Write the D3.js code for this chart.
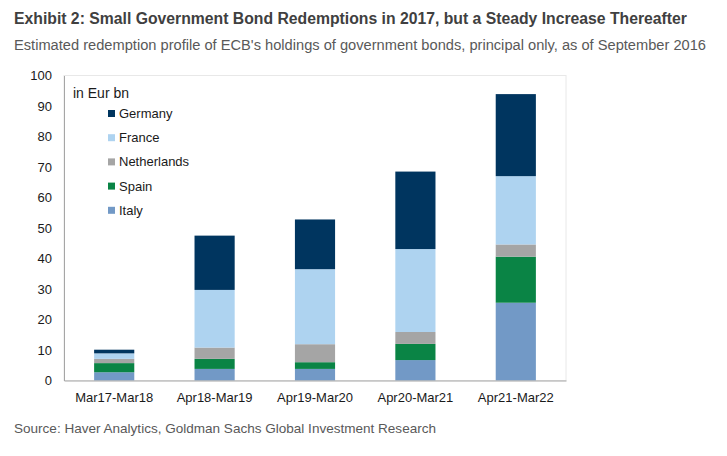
<!DOCTYPE html>
<html>
<head>
<meta charset="utf-8">
<script src="https://cdn.jsdelivr.net/npm/d3@7"></script>
<style>
  html, body { margin: 0; padding: 0; background: #fff; }
  svg { display: block; font-family: "Liberation Sans", Arial, sans-serif; }
</style>
</head>
<body>
<svg id="chart" width="727" height="456"></svg>
<script>
// ---- Data (EUR bn) ----
const categories = ["Mar17-Mar18", "Apr18-Mar19", "Apr19-Mar20", "Apr20-Mar21", "Apr21-Mar22"];
const seriesNames = ["Italy", "Spain", "Netherlands", "France", "Germany"]; // stacking order bottom -> top
const italy       = [2.7, 3.8, 3.8, 6.7, 25.5];
const spain       = [3.0, 3.3, 2.2, 5.3, 15.1];
const netherlands = [1.4, 3.7, 5.9, 3.9, 4.0];
const france      = [1.8, 18.9, 24.6, 27.2, 22.4];
const germany     = [1.2, 17.8, 16.3, 25.4, 26.9];
const yTicks = [0, 10, 20, 30, 40, 50, 60, 70, 80, 90, 100];
const legendOrder = ["Germany", "France", "Netherlands", "Spain", "Italy"];

const colors = {
  Germany: "#00355f",
  France: "#aed3f0",
  Netherlands: "#a5a5a5",
  Spain: "#0a8445",
  Italy: "#7299c6"
};

const seriesValues = { Italy: italy, Spain: spain, Netherlands: netherlands, France: france, Germany: germany };
const table = categories.map((c, i) => {
  const row = { category: c };
  seriesNames.forEach(s => row[s] = seriesValues[s][i]);
  return row;
});

const svg = d3.select("#chart");

// Title, subtitle, source
svg.append("text")
  .attr("x", 14).attr("y", 24)
  .attr("font-size", 16).attr("font-weight", "bold").attr("fill", "#404040")
  .attr("textLength", 673).attr("lengthAdjust", "spacingAndGlyphs")
  .text("Exhibit 2: Small Government Bond Redemptions in 2017, but a Steady Increase Thereafter");
svg.append("text")
  .attr("x", 14).attr("y", 50)
  .attr("font-size", 14).attr("fill", "#595959")
  .attr("textLength", 692).attr("lengthAdjust", "spacingAndGlyphs")
  .text("Estimated redemption profile of ECB's holdings of government bonds, principal only, as of September 2016");
svg.append("text")
  .attr("x", 14).attr("y", 433)
  .attr("font-size", 13.5).attr("fill", "#595959")
  .attr("textLength", 422).attr("lengthAdjust", "spacingAndGlyphs")
  .text("Source: Haver Analytics, Goldman Sachs Global Investment Research");

// Scales
const x = d3.scaleBand().domain(categories).range([64, 566]).paddingInner(0.6).paddingOuter(0.3);
const y = d3.scaleLinear().domain([0, 100]).range([380.5, 75.5]);

// Plot border (light)
svg.append("rect")
  .attr("x", 64).attr("y", y(100))
  .attr("width", 566 - 64).attr("height", y(0) - y(100))
  .attr("fill", "none").attr("stroke", "#e8e8e8").attr("stroke-width", 1);

// Stacked bars
const stack = d3.stack().keys(seriesNames);
const stacked = stack(table);
svg.append("g").selectAll("g")
  .data(stacked)
  .join("g")
  .attr("fill", d => colors[d.key])
  .selectAll("rect")
  .data(d => d)
  .join("rect")
  .attr("x", d => x(d.data.category))
  .attr("width", x.bandwidth())
  .attr("y", d => y(d[1]))
  .attr("height", d => y(d[0]) - y(d[1]));

// Axes
const yAxis = d3.axisLeft(y).tickValues(yTicks).tickSize(0).tickPadding(12);
const gy = svg.append("g").attr("transform", "translate(64,0)").call(yAxis);
gy.select(".domain").attr("stroke", "#a6a6a6");
gy.selectAll("text").attr("font-size", 13).attr("fill", "#1a1a1a").attr("font-family", "Liberation Sans, Arial, sans-serif");

const xAxis = d3.axisBottom(x).tickSize(0).tickPadding(12);
const gx = svg.append("g").attr("transform", `translate(0,${y(0)})`).call(xAxis);
gx.select(".domain").attr("stroke", "#a6a6a6");
gx.selectAll("text").attr("font-size", 13).attr("fill", "#1a1a1a").attr("font-family", "Liberation Sans, Arial, sans-serif");

// Legend
svg.append("text")
  .attr("x", 73).attr("y", 98)
  .attr("font-size", 14).attr("fill", "#1a1a1a")
  .text("in Eur bn");
const lg = svg.append("g");
legendOrder.forEach((name, i) => {
  const cy = 113.5 + i * 24.2;
  lg.append("rect").attr("x", 108).attr("y", cy - 3.5).attr("width", 7).attr("height", 7).attr("fill", colors[name]);
  lg.append("text").attr("x", 119).attr("y", cy + 4.5)
    .attr("font-size", 13).attr("fill", "#1a1a1a").text(name);
});
</script>
</body>
</html>
